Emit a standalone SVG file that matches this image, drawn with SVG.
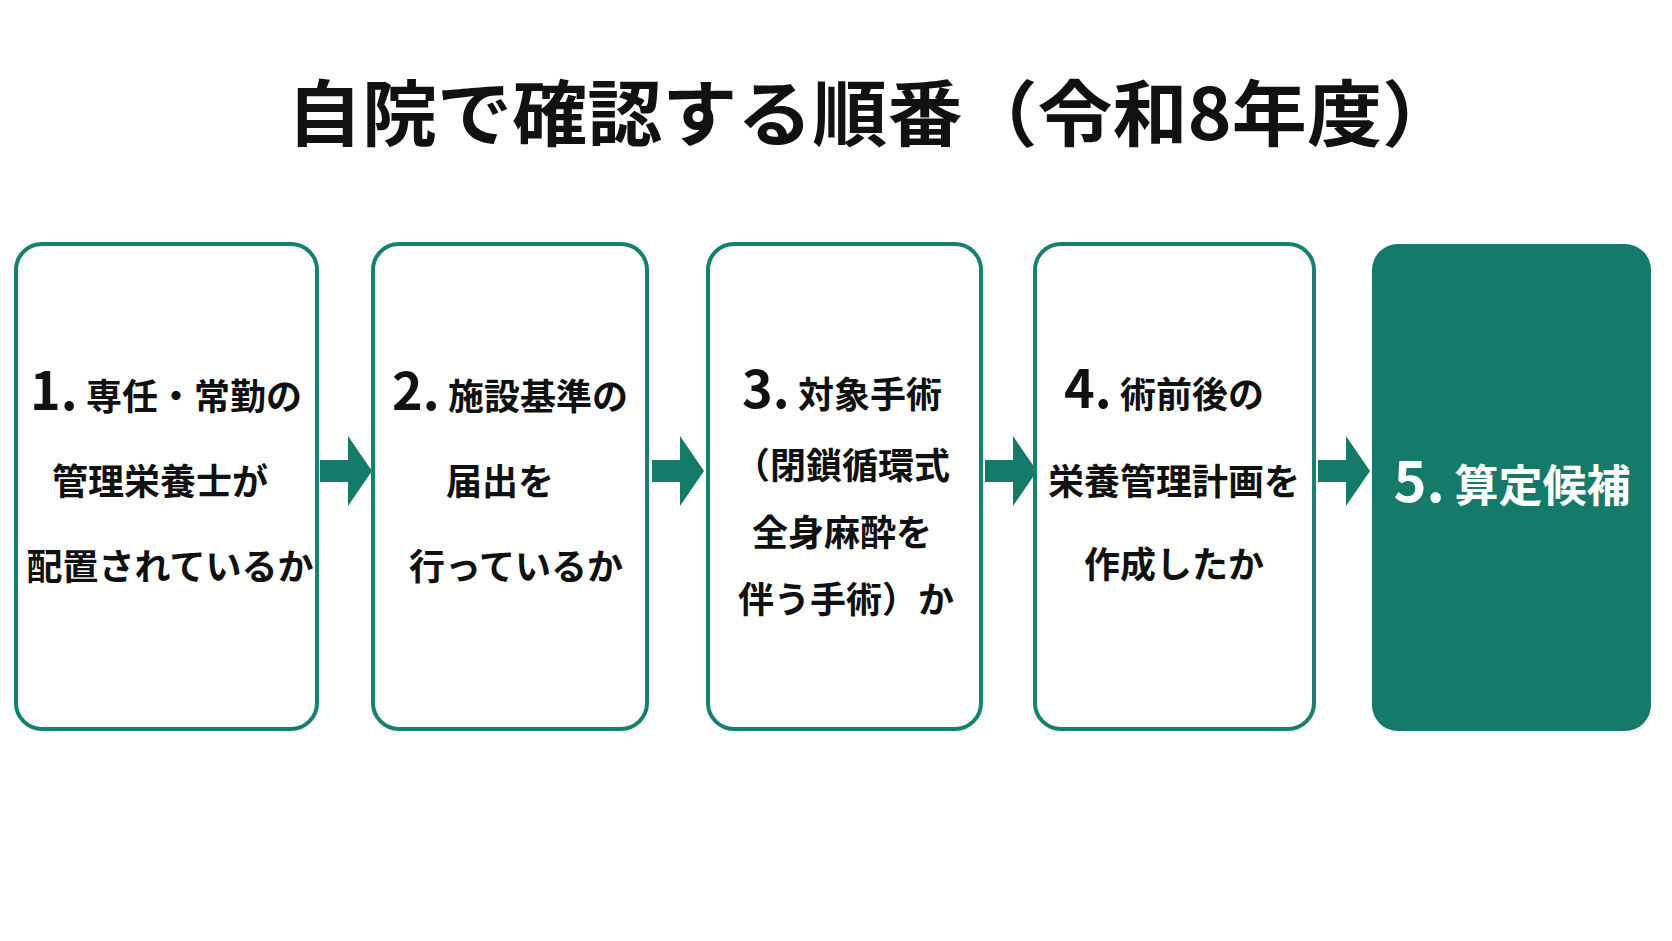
<svg xmlns="http://www.w3.org/2000/svg" width="1672" height="941" viewBox="0 0 1672 941">
<style>
.box{fill:#fff;stroke:#17806f;stroke-width:4}
.fill{fill:#167a6b}
text{font-family:"Noto Sans CJK JP","Noto Sans",sans-serif;font-weight:bold;text-anchor:middle;fill:#111}
.t{font-size:36px}
.n{font-size:52px}
.w{fill:#fff}
</style>
<rect width="1672" height="941" fill="#fff"/>
<text x="872" y="140" style="font-size:72px" textLength="1170" lengthAdjust="spacingAndGlyphs">自院で確認する順番（令和8年度）</text>
<g id="connectors" class="fill">
<path d="M320 460h28v-24l24 35-24 35v-24h-28z"/>
<path d="M652 460h28v-24l24 35-24 35v-24h-28z"/>
<path d="M985 460h28v-24l24 35-24 35v-24h-28z"/>
<path d="M1318 460h28v-24l24 35-24 35v-24h-28z"/>
</g>
<g id="n1"><rect class="box" x="16" y="244" width="301" height="485" rx="26"/>
<text class="t" x="166" y="410"><tspan class="n">1.</tspan> 専任・常勤の</text>
<text class="t" x="160" y="495">管理栄養士が</text>
<text class="t" x="170" y="580">配置されているか</text></g>
<g id="n2"><rect class="box" x="373" y="244" width="274" height="485" rx="26"/>
<text class="t" x="510" y="410"><tspan class="n">2.</tspan> 施設基準の</text>
<text class="t" x="500" y="495">届出を</text>
<text class="t" x="516" y="580">行っているか</text></g>
<g id="n3"><rect class="box" x="708" y="244" width="273" height="485" rx="26"/>
<text class="t" x="842" y="408"><tspan class="n">3.</tspan> 対象手術</text>
<text class="t" x="842" y="479">（閉鎖循環式</text>
<text class="t" x="842" y="546">全身麻酔を</text>
<text class="t" x="846" y="613">伴う手術）か</text></g>
<g id="n4"><rect class="box" x="1035" y="244" width="279" height="485" rx="26"/>
<text class="t" x="1164" y="408"><tspan class="n">4.</tspan> 術前後の</text>
<text class="t" x="1174" y="495">栄養管理計画を</text>
<text class="t" x="1174" y="578">作成したか</text></g>
<g id="n5"><rect class="fill" x="1372" y="244" width="279" height="487" rx="26"/>
<text class="w" x="1512" y="502" style="font-size:44px"><tspan style="font-size:56px">5.</tspan> 算定候補</text></g>
</svg>
